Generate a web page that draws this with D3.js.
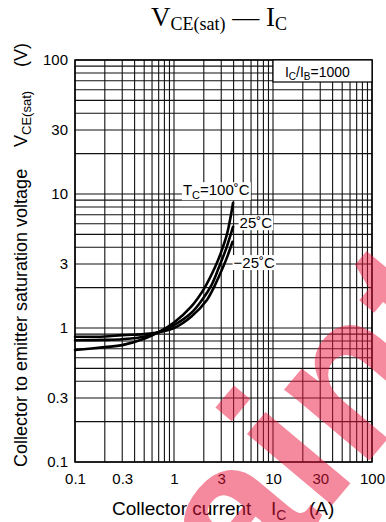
<!DOCTYPE html>
<html>
<head>
<meta charset="utf-8">
<script src="https://cdn.jsdelivr.net/npm/d3@7"></script>
<style>
  body { margin: 0; background: #fff; }
  svg { display: block; }
</style>
</head>
<body>
<svg id="chart" width="386" height="522"></svg>
<script>
'use strict';

var sans = '"Liberation Sans", Arial, sans-serif';
var serif = '"Liberation Serif", "Times New Roman", serif';

// tick labels on both log axes
var tickValues = [0.1, 0.3, 1, 3, 10, 30, 100];
var tickLabels = ['0.1', '0.3', '1', '3', '10', '30', '100'];

// collector current (A) / V_CE(sat) (V)
var tc100Current = [0.1, 0.2, 0.3, 0.5, 0.7, 1, 1.5, 2, 2.6, 3, 3.45, 3.95];
var tc100Vce     = [0.685, 0.72, 0.745, 0.83, 0.93, 1.1, 1.45, 1.95, 2.85, 3.7, 5.1, 8.6];
var tc25Current  = [0.1, 0.2, 0.3, 0.5, 0.7, 1, 1.5, 1.92, 2.4, 2.85, 3.4, 3.95];
var tc25Vce      = [0.81, 0.815, 0.825, 0.86, 0.93, 1.05, 1.3, 1.62, 2.1, 2.85, 4.0, 5.7];
var tcm25Current = [0.1, 0.2, 0.3, 0.5, 0.7, 1, 1.5, 2.15, 2.6, 3.13, 3.5, 3.9];
var tcm25Vce     = [0.86, 0.865, 0.885, 0.9, 0.93, 1.0, 1.22, 1.62, 2.1, 2.85, 3.5, 4.4];

var seriesNames = ['100', '25', '−25'];

var svg = d3.select('#chart').style('font-family', sans);
var margin = {top: 60, right: 14, bottom: 60, left: 75};
var width = 386 - margin.left - margin.right;
var height = 522 - margin.top - margin.bottom;

var x = d3.scaleLog().domain([0.1, 100]).range([0, width]);
var y = d3.scaleLog().domain([0.1, 100]).range([height, 0]);

var g = svg.append('g').attr('transform', 'translate(' + margin.left + ',' + margin.top + ')');

// minor + major grid: 1..9 in every decade
var gridVals = [];
[0.1, 1, 10].forEach(function(dec) {
	for (var k = 1; k <= 9; k++) gridVals.push(+(dec * k).toPrecision(3));
});
gridVals.push(100);

g.append('g').selectAll('line')
	.data(gridVals)
	.enter().append('line')
	.attr('x1', function(d) { return x(d); })
	.attr('x2', function(d) { return x(d); })
	.attr('y1', 0).attr('y2', height)
	.attr('stroke', '#111').attr('stroke-width', 1.1);

g.append('g').selectAll('line')
	.data(gridVals)
	.enter().append('line')
	.attr('y1', function(d) { return y(d); })
	.attr('y2', function(d) { return y(d); })
	.attr('x1', 0).attr('x2', width)
	.attr('stroke', '#111').attr('stroke-width', 1.1);

g.append('rect')
	.attr('width', width).attr('height', height)
	.attr('fill', 'none').attr('stroke', '#000').attr('stroke-width', 1.5);

// axes, only used for the tick labels
var xAxis = g.append('g')
	.attr('transform', 'translate(0,' + height + ')')
	.call(d3.axisBottom(x).tickValues(tickValues).tickSize(0).tickPadding(11)
		.tickFormat(function(d, i) { return tickLabels[i]; }));
var yAxis = g.append('g')
	.call(d3.axisLeft(y).tickValues(tickValues).tickSize(0).tickPadding(7)
		.tickFormat(function(d, i) { return tickLabels[i]; }));
[xAxis, yAxis].forEach(function(a) {
	a.select('.domain').remove();
	a.selectAll('text').attr('font-size', 15).attr('font-family', sans).attr('fill', '#000');
});

// curves
var series = [
	{name: seriesNames[0], current: tc100Current, vce: tc100Vce},
	{name: seriesNames[1], current: tc25Current, vce: tc25Vce},
	{name: seriesNames[2], current: tcm25Current, vce: tcm25Vce}
];

var line = d3.line()
	.x(function(d) { return x(d[0]); })
	.y(function(d) { return y(d[1]); })
	.curve(d3.curveCatmullRom.alpha(0.5));

g.selectAll('path.curve')
	.data(series)
	.enter().append('path')
	.attr('class', 'curve')
	.attr('fill', 'none')
	.attr('stroke', '#000')
	.attr('stroke-width', 2.6)
	.attr('stroke-linecap', 'round')
	.attr('d', function(s) { return line(s.current.map(function(c, i) { return [c, s.vce[i]]; })); });

// labels with a white box behind them
function boxedText(parent, px, py, pad) {
	var grp = parent.append('g');
	var rect = grp.append('rect').attr('fill', '#fff');
	var t = grp.append('text').attr('x', px).attr('y', py).attr('font-size', 15).attr('fill', '#000');
	return {text: t, fit: function() {
		var b = t.node().getBBox();
		rect.attr('x', b.x - pad).attr('y', b.y + 1).attr('width', b.width + 2 * pad).attr('height', b.height - 2);
	}};
}

var lab100 = boxedText(g, x(1.23), y(9.8), 1);
lab100.text.append('tspan').text('T');
lab100.text.append('tspan').attr('font-size', 11).attr('dy', 4).text('C');
lab100.text.append('tspan').attr('dy', -4).text('=' + seriesNames[0] + '˚C');
lab100.fit();

var lab25 = boxedText(g, x(4.6), y(5.55), 1);
lab25.text.text(seriesNames[1] + '˚C');
lab25.fit();

var labm25 = boxedText(g, x(4.0), y(2.8), 1);
labm25.text.text(seriesNames[2] + '˚C');
labm25.fit();

// I_C / I_B box in the top right corner
var ratio = g.append('g');
ratio.append('rect')
	.attr('x', x(10)).attr('y', 0)
	.attr('width', width - x(10)).attr('height', 22)
	.attr('fill', '#fff').attr('stroke', '#000').attr('stroke-width', 1.2);
var rt = ratio.append('text').attr('x', x(13.2)).attr('y', 17).attr('font-size', 14).attr('fill', '#000');
rt.append('tspan').text('I');
rt.append('tspan').attr('font-size', 10).attr('dy', 3).text('C');
rt.append('tspan').attr('dy', -3).text('/I');
rt.append('tspan').attr('font-size', 10).attr('dy', 3).text('B');
rt.append('tspan').attr('dy', -3).text('=1000');

// title (serif)
var title = svg.append('text')
	.attr('x', 151).attr('y', 26).attr('font-size', 27).attr('fill', '#000')
	.style('font-family', serif);
title.append('tspan').text('V');
title.append('tspan').attr('font-size', 18).attr('dy', 4).text('CE(sat)');
title.append('tspan').attr('dy', -4).text(' — I');
title.append('tspan').attr('font-size', 18).attr('dy', 4).text('C');

// x axis title
var xt = svg.append('text').attr('x', 112).attr('y', 515).attr('font-size', 19).attr('fill', '#000');
xt.append('tspan').text('Collector current');
xt.append('tspan').attr('x', 271).text('I');
xt.append('tspan').attr('font-size', 14).attr('dy', 5).text('C');
xt.append('tspan').attr('dy', -5).attr('x', 309).text('(A)');

// y axis title, rotated
var yt = svg.append('text').attr('transform', 'translate(27,467) rotate(-90)').attr('font-size', 18).attr('fill', '#000');
yt.append('tspan').attr('x', 0).text('Collector to emitter saturation voltage');
yt.append('tspan').attr('x', 320).text('V');
yt.append('tspan').attr('font-size', 13).attr('dy', 4).text('CE(sat)');
yt.append('tspan').attr('dy', -4).attr('x', 400).text('(V)');

// pink watermark laid over everything
svg.append('text')
	.attr('transform', 'translate(135,740) rotate(-50)')
	.attr('font-size', 210)
	.attr('font-weight', 'bold')
	.style('font-family', sans)
	.style('fill', 'rgb(236,20,60)')
	.style('fill-opacity', 0.5)
	.text('Maintenance');
</script>
</body>
</html>
